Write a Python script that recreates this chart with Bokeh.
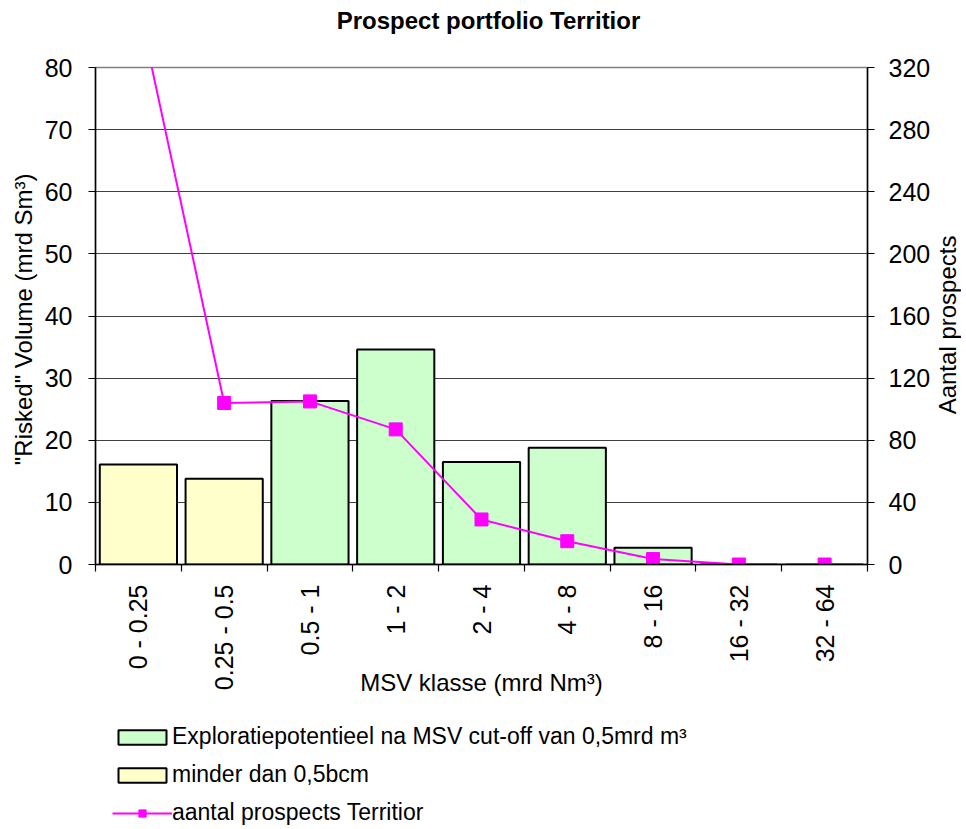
import math
from bokeh.plotting import figure
from bokeh.layouts import column, row
from bokeh.models import Range1d, LinearAxis, FixedTicker, Legend, LegendItem, Label
from bokeh.embed import file_html
from bokeh.resources import INLINE

# ---- data ----
categories = ["0 - 0.25", "0.25 - 0.5", "0.5 - 1", "1 - 2", "2 - 4",
              "4 - 8", "8 - 16", "16 - 32", "32 - 64"]
volume_small = [16.1, 13.8]                                  # classes 0-0.25, 0.25-0.5
volume_explo = [26.3, 34.6, 16.5, 18.8, 2.7, 0.0, 0.0]       # classes 0.5-1 ... 32-64
prospects = [360, 104, 105, 87, 29, 15, 3.5, 0, 0]
left_ticks = [0, 10, 20, 30, 40, 50, 60, 70, 80]
right_ticks = [0, 40, 80, 120, 160, 200, 240, 280, 320]

FONT = "Liberation Sans"
GREEN = "#CCFFCC"
YELLOW = "#FFFFCC"
MAGENTA = "#FF00FF"
n = len(categories)
xc = [i + 0.5 for i in range(n)]
n_small = len(volume_small)

FW, FH = 772, 497          # frame size
BL, BB = 95, 142           # borders
TH = 40                    # height of the title strip
BT = 67 - TH               # top border of the chart below the title strip

def blank(fig):
    fig.outline_line_color = None
    fig.background_fill_color = "white"
    fig.border_fill_color = "white"
    fig.grid.visible = False

# ---- title strip ----
tf = figure(frame_width=FW, frame_height=TH, min_border_left=BL, min_border_right=0,
            min_border_top=0, min_border_bottom=0, x_axis_type=None, y_axis_type=None,
            x_range=Range1d(0, 1), y_range=Range1d(0, 1),
            output_backend="svg", toolbar_location=None)
blank(tf)
tf.add_layout(Label(x=0.5, y=0.5, x_offset=7, text="Prospect portfolio Territior",
                    text_align="center", text_baseline="middle", text_font=FONT,
                    text_font_size="24px", text_font_style="bold", text_color="black"))

# ---- main chart ----
p = figure(frame_width=FW, frame_height=FH,
           x_range=Range1d(0, n), y_range=Range1d(left_ticks[0], left_ticks[-1]),
           output_backend="svg", toolbar_location=None,
           min_border_left=BL, min_border_right=0, min_border_top=BT,
           min_border_bottom=BB)
p.background_fill_color = "white"
p.border_fill_color = "white"
p.outline_line_color = "#808080"
p.outline_line_width = 1.5

def style_axis(ax):
    ax.axis_line_color = "black"
    ax.axis_line_width = 1.5
    ax.major_tick_line_color = "black"
    ax.major_tick_line_width = 1.2
    ax.major_tick_out = 7
    ax.major_tick_in = 0
    ax.minor_tick_line_color = None
    ax.major_label_text_font = FONT
    ax.major_label_text_font_size = "25px"
    ax.major_label_text_color = "black"
    ax.axis_label_text_font = FONT
    ax.axis_label_text_font_size = "24px"
    ax.axis_label_text_font_style = "normal"
    ax.axis_label_text_color = "black"

# x axis
xa = p.xaxis[0]
style_axis(xa)
xa.ticker = FixedTicker(ticks=xc, minor_ticks=list(range(n + 1)))
overrides = {}
for xv, c in zip(xc, categories):
    overrides[xv] = c
    overrides[str(xv)] = c
xa.major_label_overrides = overrides
xa.major_tick_out = 0
xa.minor_tick_line_color = "black"
xa.minor_tick_line_width = 1.2
xa.minor_tick_out = 7
xa.minor_tick_in = 0
xa.major_label_orientation = math.pi / 2
xa.major_label_standoff = 13
xa.axis_label = "MSV klasse (mrd Nm³)"
xa.axis_label_standoff = -24

# left axis
ly = p.yaxis[0]
style_axis(ly)
ly.ticker = FixedTicker(ticks=left_ticks)
ly.axis_label = "\"Risked\" Volume  (mrd Sm³)"
ly.major_label_standoff = 16
ly.axis_label_standoff = 5

# right axis (its title is drawn in the narrow panel to the right)
p.extra_y_ranges = {"count": Range1d(right_ticks[0], right_ticks[-1])}
ry = LinearAxis(y_range_name="count", ticker=FixedTicker(ticks=right_ticks))
style_axis(ry)
ry.major_label_standoff = 14
p.add_layout(ry, "right")

p.xgrid.visible = False
p.ygrid.ticker = FixedTicker(ticks=left_ticks)
p.ygrid.grid_line_color = "#404040"
p.ygrid.grid_line_width = 1

# bars
bar_style = dict(width=0.9, bottom=0, line_color="black", line_width=2)
r_explo = p.vbar(x=xc[n_small:], top=volume_explo, fill_color=GREEN, **bar_style)
r_small = p.vbar(x=xc[:n_small], top=volume_small, fill_color=YELLOW, **bar_style)

# line
line_style = dict(line_color=MAGENTA, line_width=2)
pt_style = dict(marker="square", size=13, fill_color=MAGENTA, line_color=MAGENTA)
r_line = p.line(xc, prospects, y_range_name="count", **line_style)
r_pts = p.scatter(xc, prospects, y_range_name="count", **pt_style)

# ---- narrow panel on the right holding the right axis title ----
rf = figure(frame_width=28, frame_height=FH, min_border_left=0, min_border_right=0,
            min_border_top=BT, min_border_bottom=BB,
            x_axis_type=None, y_axis_type=None,
            x_range=Range1d(0, 1), y_range=Range1d(0, 1),
            output_backend="svg", toolbar_location=None)
blank(rf)
rf.add_layout(Label(x=0.5, y=0.482, text="Aantal prospects", angle=math.pi / 2,
                    text_align="center", text_baseline="middle", text_font=FONT,
                    text_font_size="24px", text_color="black"))

# ---- legend panel below the chart ----
lf = figure(frame_width=FW, frame_height=121, min_border_left=BL, min_border_right=0,
            min_border_top=0, min_border_bottom=0,
            x_axis_type=None, y_axis_type=None,
            x_range=Range1d(0, n), y_range=Range1d(left_ticks[0], left_ticks[-1]),
            output_backend="svg", toolbar_location=None)
blank(lf)
# hidden copies of the series: only their legend swatches are shown
l_explo = lf.vbar(x=xc[n_small:], top=volume_explo, fill_color=GREEN, visible=False, **bar_style)
l_small = lf.vbar(x=xc[:n_small], top=volume_small, fill_color=YELLOW, visible=False, **bar_style)
l_line = lf.line(xc, prospects, visible=False, **line_style)
l_pts = lf.scatter(xc, prospects, visible=False, **pt_style)

legend = Legend(items=[
    LegendItem(label="Exploratiepotentieel na MSV cut-off van 0,5mrd m³", renderers=[l_explo]),
    LegendItem(label="minder dan 0,5bcm", renderers=[l_small]),
    LegendItem(label="aantal prospects Territior", renderers=[l_line, l_pts]),
], location=(17, 1), orientation="vertical", glyph_width=60, glyph_height=18,
    label_height=27, label_standoff=0, spacing=11, padding=0, margin=0,
    background_fill_alpha=0, border_line_color=None,
    inactive_fill_alpha=0, click_policy="none",
    label_text_font=FONT, label_text_font_size="23px", label_text_color="black")
lf.add_layout(legend)

layout = column(tf, row(p, rf), lf)
open("out.html", "w").write(file_html(layout, INLINE))
